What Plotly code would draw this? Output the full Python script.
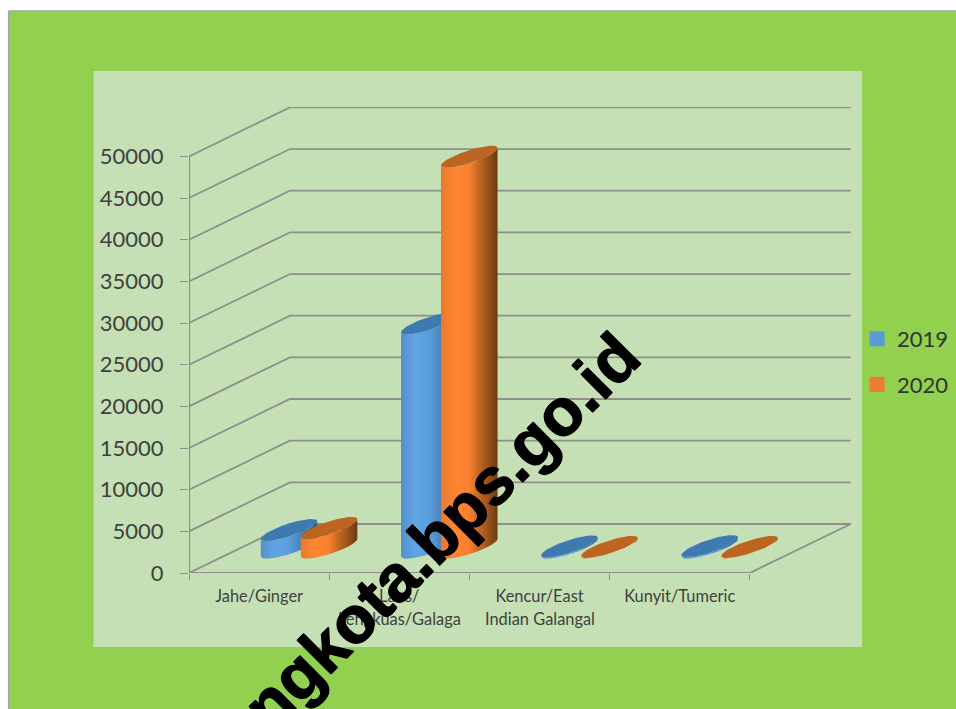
import math
import plotly.graph_objects as go

# ---- data ----
categories = ["Jahe/Ginger", "Laos/", "Kencur/East", "Kunyit/Tumeric"]
second_lines = ["", "Lengkuas/Galaga", "Indian Galangal", ""]
years = ["2019", "2020"]
values_2019 = [2100, 26900, 130, 170]
values_2020 = [2350, 46900, 70, 70]
y_ticks = [0, 5000, 10000, 15000, 20000, 25000, 30000, 35000, 40000, 45000, 50000]

# ---- page geometry (pixels) ----
W, H = 956, 709
PX_L, PX_R, PX_T, PX_B = 188.5, 956, 107, 573
CAT_PX = 140.3
VAL_PX = 416.6 / 50000
DEPTH_X, DEPTH_Y = 101.0, 49.0   # oblique offset of the back wall

def dx(px):
    return px / CAT_PX

def dv(px):
    return px / VAL_PX

xmax = (PX_R - PX_L) / CAT_PX
ymax = (PX_B - PX_T) / VAL_PX
n_cat = len(categories)

def px(x):
    return (x - PX_L) / (PX_R - PX_L)

def py(y):
    return (PX_B - y) / (PX_B - PX_T)

GRID = "#8E8E8E"
fig = go.Figure()

# ---- walls ----
wx, wy = [], []
for t in y_ticks:
    wx += [0, dx(DEPTH_X), dx(DEPTH_X) + n_cat, None]
    wy += [t, t + dv(DEPTH_Y), t + dv(DEPTH_Y), None]
wx += [n_cat, n_cat + dx(DEPTH_X), None]
wy += [0, dv(DEPTH_Y), None]
fig.add_trace(go.Scatter(x=wx, y=wy, mode="lines", line=dict(color=GRID, width=1.8),
                         showlegend=False, hoverinfo="skip", cliponaxis=False))
fig.add_trace(go.Scatter(x=[0, 0, n_cat], y=[y_ticks[-1], 0, 0], mode="lines",
                         line=dict(color=GRID, width=2.2), showlegend=False,
                         hoverinfo="skip", cliponaxis=False))

# ---- cylinders ----
HW, HH = 28.3, 11.0
BX = HH * DEPTH_X / DEPTH_Y
AX = math.sqrt(HW ** 2 - BX ** 2)
PHI = math.atan2(BX, AX)

def ell(cx, v, t):
    return (cx + dx(AX) * math.cos(t) + dx(BX) * math.sin(t), v + dv(HH) * math.sin(t))

def hexmix(stops, u):
    for (u0, c0), (u1, c1) in zip(stops, stops[1:]):
        if u <= u1:
            f = (u - u0) / (u1 - u0)
            rgb = [round(int(c0[i:i + 2], 16) * (1 - f) + int(c1[i:i + 2], 16) * f) for i in (1, 3, 5)]
            return "rgb(%d,%d,%d)" % tuple(rgb)
    return stops[-1][1]

ramps = {
    "2019": [(-1, "#5590CA"), (-0.5, "#60A5E6"), (0, "#5C9EDC"), (0.35, "#4E86BC"), (0.7, "#3D6C98"), (1, "#2E5274")],
    "2020": [(-1, "#E87A2C"), (-0.5, "#FF8630"), (0, "#F98030"), (0.35, "#C26623"), (0.7, "#96501A"), (1, "#693A10")],
}
caps = {"2019": "#3F79B2", "2020": "#BC6420"}
legend_colors = {"2019": "#5B9BD5", "2020": "#ED7D31"}
offsets = {"2019": -20.5, "2020": 19.5}
series = {"2019": values_2019, "2020": values_2020}
BASE_Y = 0.52 * DEPTH_Y
N = 28

for yr in years:
    vals = series[yr]
    centers = [i + 0.5 + dx(DEPTH_X / 2 + offsets[yr]) for i in range(n_cat)]
    for k in range(N):
        u0 = -1 + 2 * k / N
        u1 = min(1, -1 + 2 * (k + 1.5) / N)
        xs, ys = [], []
        for c, v in zip(centers, vals):
            b = dv(BASE_Y)
            us = [u0 + (u1 - u0) * j / 3 for j in range(4)]
            ts = [PHI + 2 * math.pi - math.acos(uu) for uu in us]
            low = [ell(c, b, t) for t in ts]
            high = [ell(c, b + v, t) for t in reversed(ts)]
            pts = low + high + [low[0]]
            xs += [p[0] for p in pts] + [None]
            ys += [p[1] for p in pts] + [None]
        fig.add_trace(go.Scatter(x=xs, y=ys, mode="lines", fill="toself", line=dict(width=0),
                                 fillcolor=hexmix(ramps[yr], (u0 + min(1, u0 + 2 / N)) / 2),
                                 showlegend=False, hoverinfo="skip", legendgroup=yr))
    xs, ys = [], []
    for c, v in zip(centers, vals):
        pts = [ell(c, dv(BASE_Y) + v, 2 * math.pi * j / 72) for j in range(73)]
        xs += [p[0] for p in pts] + [None]
        ys += [p[1] for p in pts] + [None]
    fig.add_trace(go.Scatter(x=xs, y=ys, mode="lines", fill="toself", line=dict(width=0),
                             fillcolor=caps[yr], showlegend=False, hoverinfo="skip", legendgroup=yr))

# ---- legend entries ----
for yr in years:
    fig.add_trace(go.Scatter(x=[None], y=[None], mode="markers", name=yr, legendgroup=yr,
                             marker=dict(symbol="square", size=15, color=legend_colors[yr])))

# ---- second lines of the category labels ----
annotations = []
for i, s in enumerate(second_lines):
    if s:
        annotations.append(dict(x=i + 0.5, y=py(618), xref="x", yref="paper", text=s, showarrow=False,
                                font=dict(family="Lato", size=16.4, color="#404040"), yanchor="middle"))
annotations.append(dict(x=px(441), y=py(531), xref="paper", yref="paper", text="<b>ngkota.bps.go.id</b>",
                        showarrow=False, textangle=-45, xanchor="center", yanchor="middle",
                        font=dict(family="Liberation Sans", size=66, color="#000000",
                                  shadow="0.5px 0.5px 0 #000, -0.5px -0.5px 0 #000, 0.5px -0.5px 0 #000, -0.5px 0.5px 0 #000")))

shapes = [
    dict(type="rect", xref="paper", yref="paper", x0=px(8), x1=px(990), y0=py(740), y1=py(11),
         fillcolor="#92D050", line=dict(width=0), layer="below"),
    dict(type="line", xref="paper", yref="paper", x0=px(8), x1=px(990), y0=py(11), y1=py(11),
         line=dict(color="#A6A6A6", width=1.5), layer="below"),
    dict(type="line", xref="paper", yref="paper", x0=px(8), x1=px(8), y0=py(11), y1=py(740),
         line=dict(color="#A6A6A6", width=1.5), layer="below"),
    dict(type="rect", xref="paper", yref="paper", x0=px(93), x1=px(862), y0=py(647), y1=py(71),
         fillcolor="#C5E0B4", line=dict(width=0), layer="below"),
]

fig.update_layout(
    width=W, height=H, autosize=False,
    paper_bgcolor="#FFFFFF", plot_bgcolor="rgba(0,0,0,0)",
    margin=dict(l=PX_L, r=W - PX_R, t=PX_T, b=H - PX_B, pad=0),
    shapes=shapes, annotations=annotations,
    font=dict(family="Lato", color="#404040"),
    xaxis=dict(range=[0, xmax], showgrid=False, zeroline=False, showline=False,
               tickmode="array", tickvals=[i + 0.5 for i in range(n_cat)], ticktext=categories,
               ticks="", tickfont=dict(size=16.4, color="#404040"), ticklabelstandoff=12,
               minor=dict(tickmode="array", tickvals=list(range(n_cat + 1)), ticks="outside",
                          ticklen=6, tickcolor=GRID, tickwidth=1.2, showgrid=False)),
    yaxis=dict(range=[0, ymax], showgrid=False, zeroline=False, showline=False,
               tickmode="array", tickvals=y_ticks, ticktext=[str(v) for v in y_ticks],
               ticks="outside", ticklen=8, tickcolor=GRID, tickwidth=1.2,
               tickfont=dict(size=22, color="#404040"), ticklabelstandoff=12),
    showlegend=True,
    legend=dict(x=px(857), y=py(318), xanchor="left", yanchor="top", bgcolor="rgba(0,0,0,0)",
                font=dict(size=22, color="#333333"), tracegroupgap=14, itemclick=False,
                itemdoubleclick=False, traceorder="grouped", itemwidth=30,
                entrywidth=46, entrywidthmode="pixels"),
)

fig.write_html("out.html", config={"displayModeBar": False},
               post_script="document.body.style.margin='0';document.body.style.overflow='hidden';")
